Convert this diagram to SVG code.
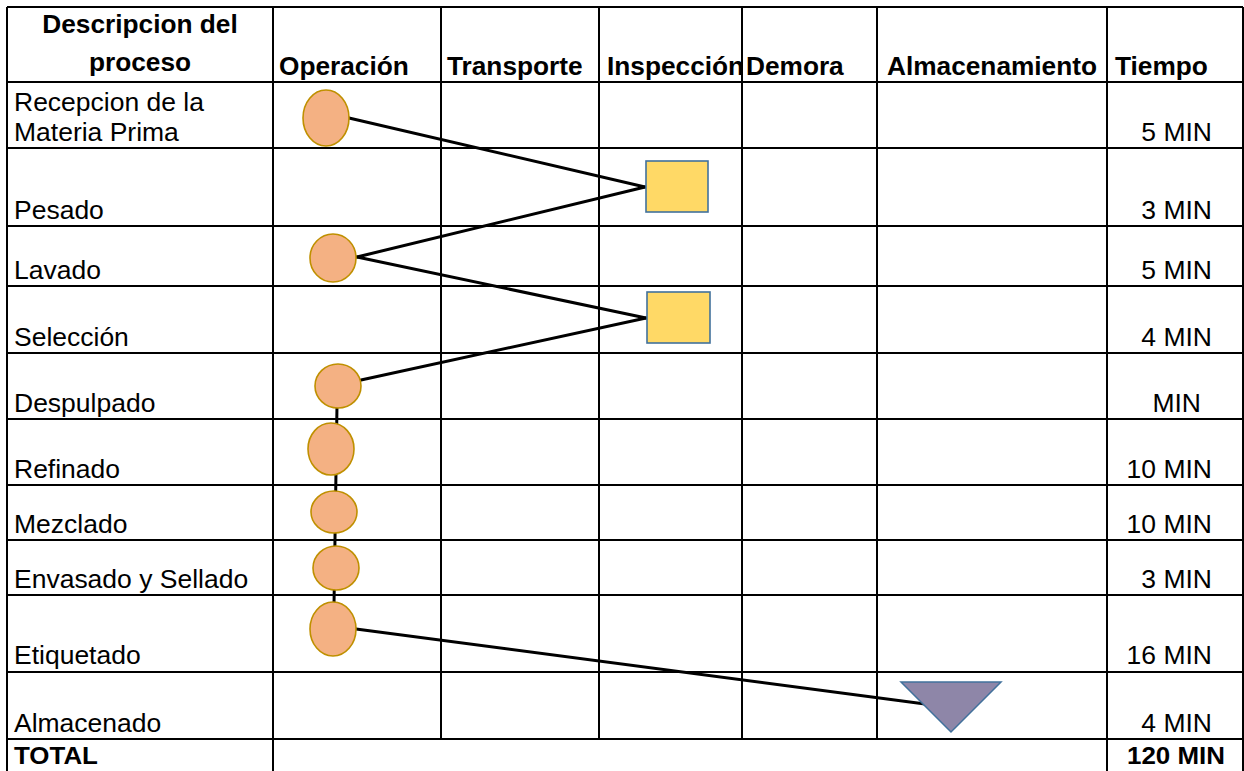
<svg xmlns="http://www.w3.org/2000/svg" width="1244" height="771" viewBox="0 0 1244 771">
<style>
.grid line{stroke:#000;stroke-width:2}
.hd{font-family:"Liberation Sans",Arial,sans-serif;font-weight:bold;font-size:25px;fill:#000}
.bd{font-family:"Liberation Sans",Arial,sans-serif;font-size:25px;fill:#000}
.tb{font-family:"Liberation Sans",Arial,sans-serif;font-weight:bold;font-size:24px;fill:#000}
.op{fill:#F4B183;stroke:#BF9000;stroke-width:1.6}
.insp{fill:#FFD966;stroke:#41719C;stroke-width:1.6}
.alm{fill:#8E86A8;stroke:#41719C;stroke-width:1.5}
.con line{stroke:#000;stroke-width:3;stroke-linecap:round}
</style>
<defs>
<clipPath id="clipInsp"><rect x="599" y="7" width="143" height="75"/></clipPath>
</defs>
<rect x="0" y="0" width="1244" height="771" fill="#fff"/>
<g id="table" class="grid">
<line x1="7" y1="7" x2="1243" y2="7"/>
<line x1="7" y1="82" x2="1243" y2="82"/>
<line x1="7" y1="148" x2="1243" y2="148"/>
<line x1="7" y1="226" x2="1243" y2="226"/>
<line x1="7" y1="286" x2="1243" y2="286"/>
<line x1="7" y1="353" x2="1243" y2="353"/>
<line x1="7" y1="419" x2="1243" y2="419"/>
<line x1="7" y1="485" x2="1243" y2="485"/>
<line x1="7" y1="540" x2="1243" y2="540"/>
<line x1="7" y1="595" x2="1243" y2="595"/>
<line x1="7" y1="672" x2="1243" y2="672"/>
<line x1="7" y1="739" x2="1243" y2="739"/>
<line x1="7" y1="7" x2="7" y2="771"/>
<line x1="273" y1="7" x2="273" y2="771"/>
<line x1="441" y1="7" x2="441" y2="739"/>
<line x1="599" y1="7" x2="599" y2="739"/>
<line x1="742" y1="7" x2="742" y2="739"/>
<line x1="877" y1="7" x2="877" y2="739"/>
<line x1="1107" y1="7" x2="1107" y2="771"/>
<line x1="1243" y1="7" x2="1243" y2="771"/>
</g>
<g id="header-text">
<g transform="scale(1.05 1)">
<text class="hd" x="133.33" y="33" text-anchor="middle">Descripcion del</text>
<text class="hd" x="133.33" y="71" text-anchor="middle">proceso</text>
<text class="hd" x="265.71" y="75">Operación</text>
<text class="hd" x="425.71" y="75">Transporte</text>
<text class="hd" x="710.48" y="75">Demora</text>
<text class="hd" x="844.76" y="75">Almacenamiento</text>
<text class="hd" x="1061.9" y="75">Tiempo</text>
</g>
<g clip-path="url(#clipInsp)"><text class="hd" transform="scale(1.05 1)" x="578.1" y="75">Inspección</text></g>
</g>
<g id="row-text" transform="scale(1.06 1)">
<text class="bd" x="13.21" y="111">Recepcion de la</text>
<text class="bd" x="13.21" y="141">Materia Prima</text>
<text class="bd" x="13.21" y="219">Pesado</text>
<text class="bd" x="13.21" y="279">Lavado</text>
<text class="bd" x="13.21" y="346">Selección</text>
<text class="bd" x="13.21" y="412">Despulpado</text>
<text class="bd" x="13.21" y="478">Refinado</text>
<text class="bd" x="13.21" y="533">Mezclado</text>
<text class="bd" x="13.21" y="588">Envasado y Sellado</text>
<text class="bd" x="13.21" y="664">Etiquetado</text>
<text class="bd" x="13.21" y="732">Almacenado</text>
<text class="bd" x="1143.4" y="141" text-anchor="end">5 MIN</text>
<text class="bd" x="1143.4" y="219" text-anchor="end">3 MIN</text>
<text class="bd" x="1143.4" y="279" text-anchor="end">5 MIN</text>
<text class="bd" x="1143.4" y="346" text-anchor="end">4 MIN</text>
<text class="bd" x="1133.0" y="412" text-anchor="end">MIN</text>
<text class="bd" x="1143.4" y="478" text-anchor="end">10 MIN</text>
<text class="bd" x="1143.4" y="533" text-anchor="end">10 MIN</text>
<text class="bd" x="1143.4" y="588" text-anchor="end">3 MIN</text>
<text class="bd" x="1143.4" y="664" text-anchor="end">16 MIN</text>
<text class="bd" x="1143.4" y="732" text-anchor="end">4 MIN</text>
</g>
<g id="total-text" transform="scale(1.08 1)">
<text class="tb" x="12.96" y="764">TOTAL</text>
<text class="tb" x="1088.89" y="764" text-anchor="middle">120 MIN</text>
</g>
<g id="connectors" class="con">
<line x1="349" y1="118" x2="645" y2="187"/>
<line x1="645" y1="187" x2="357" y2="257"/>
<line x1="357" y1="257" x2="646" y2="318"/>
<line x1="646" y1="318" x2="361" y2="380"/>
<line x1="337" y1="405" x2="334" y2="605"/>
<line x1="356" y1="629" x2="925" y2="704"/>
</g>
<g id="op-recepcion"><ellipse class="op" cx="326" cy="118" rx="23" ry="28"/></g>
<g id="insp-pesado"><rect class="insp" x="646" y="161" width="62" height="51"/></g>
<g id="op-lavado"><ellipse class="op" cx="333" cy="258" rx="23" ry="24"/></g>
<g id="insp-seleccion"><rect class="insp" x="647" y="292" width="63" height="51"/></g>
<g id="op-despulpado"><ellipse class="op" cx="338" cy="386" rx="23" ry="22"/></g>
<g id="op-refinado"><ellipse class="op" cx="331" cy="449" rx="23" ry="26"/></g>
<g id="op-mezclado"><ellipse class="op" cx="334" cy="512" rx="23" ry="21"/></g>
<g id="op-envasado"><ellipse class="op" cx="336" cy="568" rx="23" ry="22"/></g>
<g id="op-etiquetado"><ellipse class="op" cx="333" cy="629" rx="23" ry="27"/></g>
<g id="alm-almacenado"><polygon class="alm" points="901,682 1001,682 951,732"/></g>
</svg>
